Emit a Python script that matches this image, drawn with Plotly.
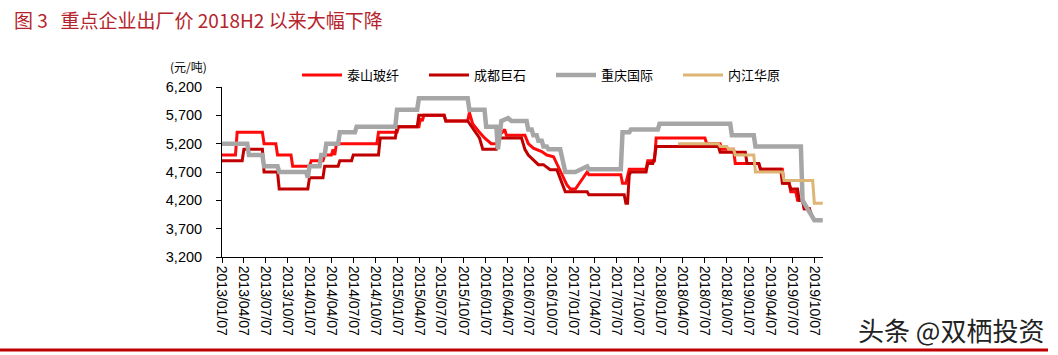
import plotly.graph_objects as go

# ---------------- data ----------------
ts_dates = ["2013-01-07","2013-03-04","2013-03-11","2013-06-24","2013-07-01","2013-08-19","2013-08-26",
            "2013-10-21","2013-10-28","2014-01-06","2014-01-13","2014-03-03","2014-03-10","2014-04-07",
            "2014-04-14","2014-04-21","2014-04-28","2014-10-13","2014-10-20","2015-01-05","2015-01-12",
            "2015-04-06","2015-04-13","2015-04-20","2015-04-27","2015-07-20","2015-07-27","2015-10-26",
            "2015-11-02","2015-11-16","2015-12-14","2016-01-04","2016-02-01","2016-02-29","2016-03-07",
            "2016-03-28","2016-04-04","2016-06-20","2016-07-04","2016-07-25","2016-08-29","2016-09-19",
            "2016-10-17","2016-12-12","2016-12-26","2017-01-16","2017-03-06","2017-03-13","2017-07-24",
            "2017-07-31","2017-08-14","2017-08-21","2017-08-28","2017-11-06","2017-11-13","2017-12-11",
            "2017-12-18","2018-07-09","2018-07-16","2018-09-10","2018-09-17","2018-11-05","2018-11-12",
            "2019-02-18","2019-02-25","2019-05-27","2019-06-03","2019-06-24","2019-07-01","2019-07-22",
            "2019-07-29","2019-08-19","2019-08-26","2019-09-23"]
ts_values = [5000,5000,5400,5400,5200,5200,5000,
             5000,4800,4800,4900,4900,5000,5000,
             5100,5000,5200,5200,5400,5400,5500,
             5500,5650,5600,5700,5700,5600,5600,
             5750,5550,5400,5300,5200,5200,5350,
             5450,5350,5350,5200,5120,5060,5000,
             4970,4470,4400,4400,4700,4650,4650,
             4500,4500,4650,4750,4750,4900,4900,
             5300,5300,5200,5200,5100,5100,4850,
             4850,4750,4750,4500,4500,4350,4350,
             4200,4200,4050,4050]

cd_dates = ["2013-01-07","2013-04-01","2013-04-08","2013-06-24","2013-07-01","2013-08-26","2013-09-02",
            "2013-12-30","2014-01-06","2014-03-03","2014-03-10","2014-05-05","2014-05-12","2014-06-30",
            "2014-07-07","2014-10-20","2014-10-27","2014-12-29","2015-01-05","2015-03-30","2015-04-06",
            "2015-07-20","2015-07-27","2015-10-26","2015-12-14","2015-12-28","2016-02-22","2016-03-07",
            "2016-06-06","2016-06-20","2016-07-04","2016-07-25","2016-08-15","2016-09-05","2016-10-03",
            "2016-10-31","2016-12-05","2017-03-06","2017-03-13","2017-08-07","2017-08-14","2017-08-21",
            "2017-08-28","2017-09-04","2017-11-06","2017-11-13","2017-12-04","2017-12-11","2017-12-18",
            "2018-09-03","2018-09-10","2018-12-24","2018-12-31","2019-02-18","2019-02-25","2019-05-20",
            "2019-05-27","2019-06-24","2019-07-01","2019-07-29","2019-08-05","2019-08-19","2019-08-26",
            "2019-09-16","2019-09-30"]
cd_values = [4900,4900,5100,5100,4700,4700,4400,
             4400,4600,4600,4800,4800,4900,4900,
             5000,5000,5300,5300,5500,5500,5700,
             5700,5600,5600,5300,5100,5100,5300,
             5300,5100,5000,4920,4830,4830,4740,
             4740,4350,4350,4300,4300,4150,4150,
             4650,4700,4700,4850,4850,4950,5150,
             5150,5050,5050,4850,4850,4750,4750,
             4500,4500,4400,4400,4200,4200,4050,
             4050,3900]

cq_dates = ["2013-01-07","2013-04-22","2013-04-29","2013-06-24","2013-07-01","2013-08-26","2013-09-02",
            "2013-12-23","2013-12-30","2014-01-06","2014-02-17","2014-02-24","2014-03-10","2014-03-17",
            "2014-05-05","2014-05-12","2014-07-14","2014-07-21","2014-12-29","2015-01-05","2015-03-30",
            "2015-04-06","2015-10-26","2015-11-02","2016-01-04","2016-01-11","2016-02-22","2016-02-29",
            "2016-03-14","2016-04-11","2016-04-25","2016-06-27","2016-07-04","2016-07-18","2016-07-25",
            "2016-08-08","2016-08-15","2016-08-29","2016-09-05","2016-09-19","2016-09-26","2016-11-14",
            "2016-12-05","2017-01-16","2017-03-06","2017-03-13","2017-07-24","2017-07-31","2017-08-28",
            "2017-09-04","2017-12-25","2018-01-01","2018-10-22","2018-10-29","2019-01-28","2019-02-04",
            "2019-08-12","2019-08-19","2019-10-07","2019-11-11"]
cq_values = [5200,5200,5000,5000,4800,4800,4700,
             4700,4600,4800,4800,5000,5000,5200,
             5200,5400,5400,5500,5500,5800,5800,
             6000,6000,5800,5800,5500,5500,5100,
             5600,5650,5600,5600,5450,5450,5350,
             5350,5250,5250,5150,5150,5100,5100,
             4700,4700,4800,4750,4750,5400,5400,
             5450,5450,5550,5550,5350,5350,5150,
             5150,4200,3850,3850]

nj_dates = ["2018-03-19","2018-09-03","2018-09-10","2018-10-08","2018-10-15","2018-11-05","2018-11-12",
            "2019-01-28","2019-02-04","2019-05-27","2019-06-03","2019-09-30","2019-10-07","2019-11-11"]
nj_values = [5200,5200,5150,5150,5100,5100,5000,
             5000,4700,4700,4550,4550,4150,4150]

series_names = ["泰山玻纤", "成都巨石", "重庆国际", "内江华原"]

x_tick_labels = ["2013/01/07","2013/04/07","2013/07/07","2013/10/07",
                 "2014/01/07","2014/04/07","2014/07/07","2014/10/07",
                 "2015/01/07","2015/04/07","2015/07/07","2015/10/07",
                 "2016/01/07","2016/04/07","2016/07/07","2016/10/07",
                 "2017/01/07","2017/04/07","2017/07/07","2017/10/07",
                 "2018/01/07","2018/04/07","2018/07/07","2018/10/07",
                 "2019/01/07","2019/04/07","2019/07/07","2019/10/07"]
y_ticks = [3200, 3700, 4200, 4700, 5200, 5700, 6200]

title_text = "图 3   重点企业出厂价 2018H2 以来大幅下降"
unit_text = "(元/吨)"
watermark_text = "头条 @双栖投资"

# ---------------- figure ----------------
colors = ["#FF0A0A", "#C00000", "#A6A6A6", "#DDB574"]
widths = [3, 3, 4.5, 3]
xs = [ts_dates, cd_dates, cq_dates, nj_dates]
ys = [ts_values, cd_values, cq_values, nj_values]

fig = go.Figure()
for name, x, y, c, w in zip(series_names, xs, ys, colors, widths):
    fig.add_trace(go.Scatter(x=x, y=y, mode="lines", name=name,
                             line=dict(color=c, width=w, shape="linear")))

W, H = 1058, 355
L, R, T, B = 222, 235, 87, 98
pw, ph = W - L - R, H - T - B

def px_x(p):
    return (p - L) / pw

def px_y(p):
    return (H - B - p) / ph

fig.update_layout(
    width=W, height=H,
    margin=dict(l=L, r=R, t=T, b=B, pad=0),
    paper_bgcolor="white", plot_bgcolor="white",
    font=dict(family="Liberation Sans, Arial, sans-serif", color="#000000"),
    showlegend=True,
    legend=dict(orientation="h", x=px_x(297), y=px_y(75), xanchor="left", yanchor="middle",
                itemwidth=40, entrywidth=72, entrywidthmode="pixels",
                bgcolor="rgba(0,0,0,0)",
                font=dict(family="Noto Sans CJK SC", size=13, color="#000000")),
    xaxis=dict(type="date", range=["2013-01-07", "2019-11-12"],
               tickvals=[t.replace("/", "-") for t in x_tick_labels], ticktext=x_tick_labels,
               tickangle=90, showgrid=False, zeroline=False, showline=True,
               linecolor="#000000", linewidth=1, ticks="outside", ticklen=5,
               tickcolor="#000000", tickwidth=1,
               tickfont=dict(family="Liberation Sans, Arial", size=14, color="#000000")),
    yaxis=dict(range=[3200, 6200], tickvals=y_ticks, tickformat=",d",
               showgrid=False, zeroline=False, showline=True,
               linecolor="#000000", linewidth=1, ticks="outside", ticklen=5,
               tickcolor="#000000", tickwidth=1, ticklabelstandoff=11,
               tickfont=dict(family="Liberation Sans, Arial", size=14.5, color="#000000")),
)

fig.add_annotation(text=title_text, xref="paper", yref="paper",
                   x=px_x(12), y=px_y(19), xanchor="left", yanchor="middle", showarrow=False,
                   font=dict(family="Noto Sans CJK SC", size=19, color="#B5242B"))
fig.add_annotation(text=unit_text, xref="paper", yref="paper",
                   x=px_x(188), y=px_y(66), xanchor="center", yanchor="middle", showarrow=False,
                   font=dict(family="Noto Sans CJK SC", size=12, color="#000000"))
fig.add_annotation(text=watermark_text, xref="paper", yref="paper",
                   x=px_x(1046), y=px_y(329), xanchor="right", yanchor="middle", showarrow=False,
                   font=dict(family="Noto Sans CJK SC", size=26, color="#222222"))
fig.add_shape(type="line", xref="paper", yref="paper",
              x0=px_x(0), x1=px_x(1048), y0=px_y(350), y1=px_y(350),
              line=dict(color="#C00000", width=3))

fig.write_html("out.html")
